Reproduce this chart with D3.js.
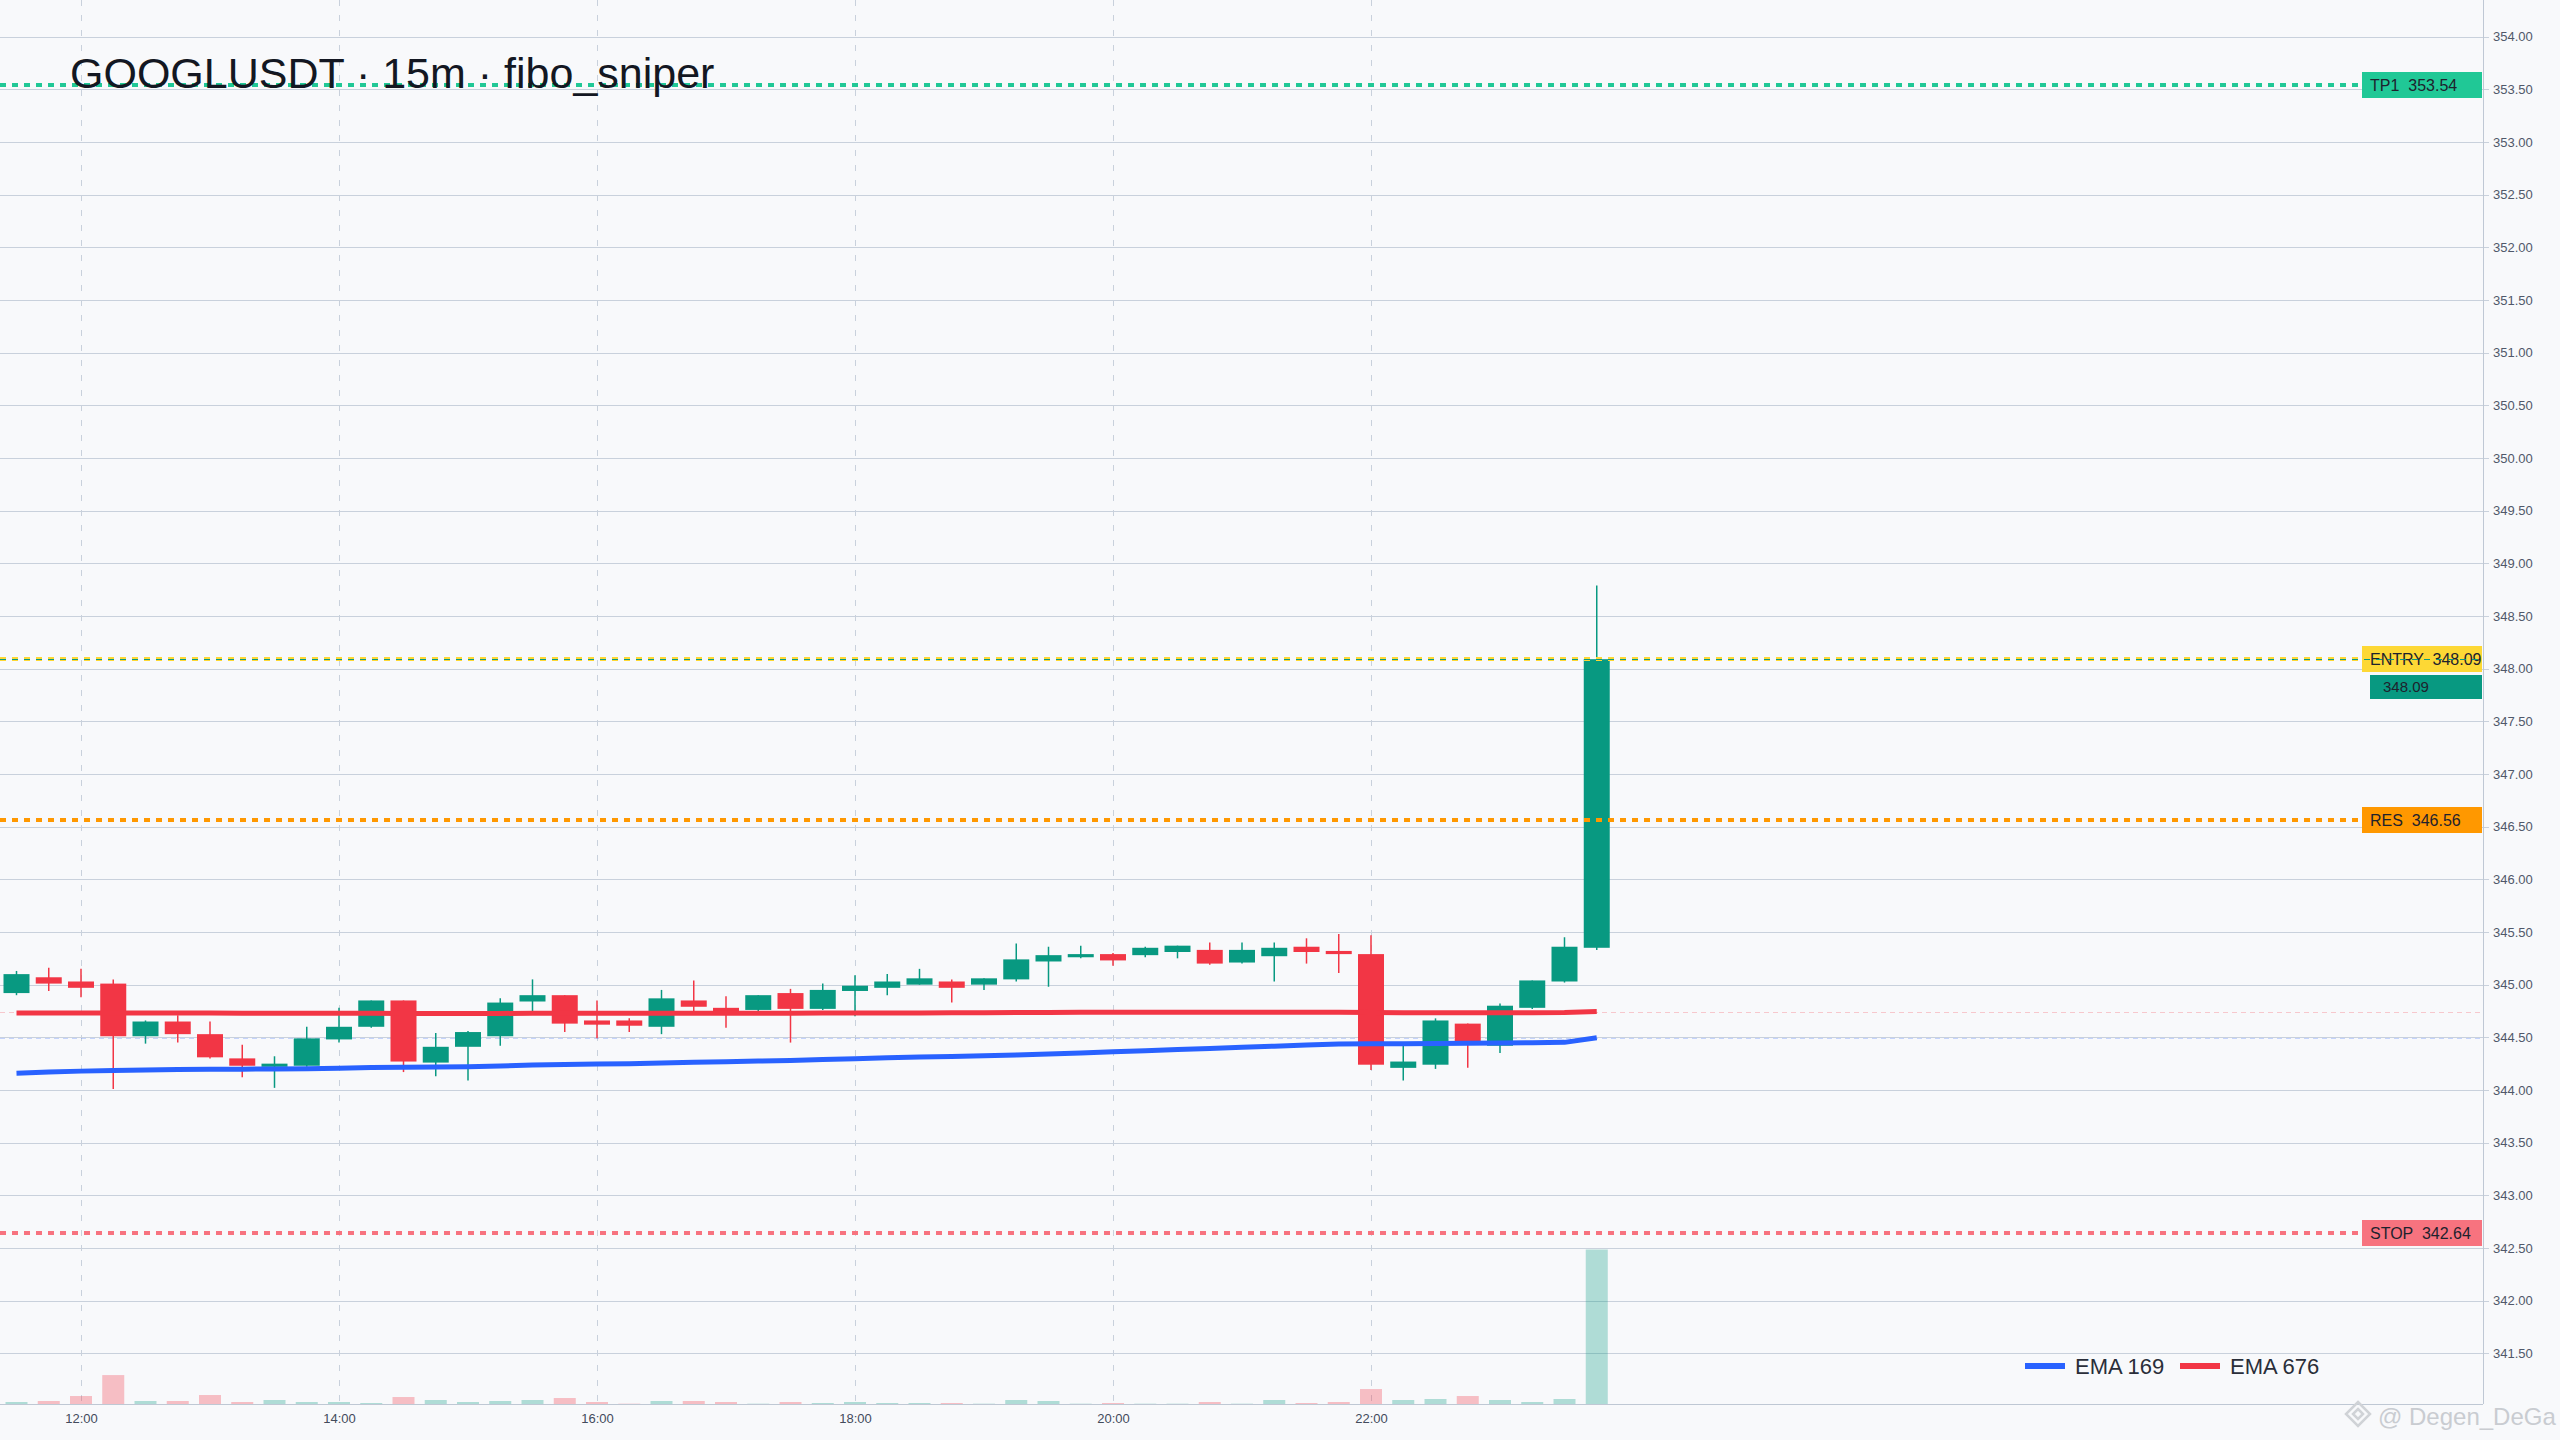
<!DOCTYPE html>
<html><head><meta charset="utf-8">
<script src="https://cdn.jsdelivr.net/npm/d3@7"></script>
<style>
html,body{margin:0;padding:0;background:#f8f9fb;}
svg{display:block;font-family:"Liberation Sans",Arial,Helvetica,sans-serif;}
text{white-space:pre;}
</style></head><body>
<svg id="chart" width="2560" height="1440"></svg>
<script>
// ---------- DATA ----------
const times = ["11:30","11:45","12:00","12:15","12:30","12:45","13:00","13:15","13:30","13:45",
"14:00","14:15","14:30","14:45","15:00","15:15","15:30","15:45","16:00","16:15",
"16:30","16:45","17:00","17:15","17:30","17:45","18:00","18:15","18:30","18:45",
"19:00","19:15","19:30","19:45","20:00","20:15","20:30","20:45","21:00","21:15",
"21:30","21:45","22:00","22:15","22:30","22:45","23:00","23:15","23:30","23:45"];
const opens = [344.92,345.07,345.03,345.01,344.51,344.65,344.53,344.30,344.22,344.23,
344.48,344.60,344.85,344.26,344.41,344.51,344.84,344.90,344.66,344.66,
344.60,344.85,344.78,344.76,344.92,344.77,344.94,344.97,345.00,345.03,
345.00,345.05,345.22,345.26,345.29,345.28,345.31,345.33,345.21,345.27,
345.36,345.32,345.29,344.21,344.24,344.63,344.42,344.78,345.03,345.35];
const highs = [345.13,345.16,345.15,345.05,344.66,344.71,344.65,344.43,344.32,344.60,
344.78,344.85,344.85,344.54,344.56,344.87,345.05,344.90,344.85,344.68,
344.95,345.04,344.89,344.90,344.96,345.01,345.09,345.10,345.15,345.05,
345.06,345.39,345.36,345.37,345.30,345.36,345.37,345.40,345.40,345.40,
345.44,345.48,345.47,344.44,344.68,344.63,344.82,345.04,345.45,348.79];
const lows = [344.90,344.94,344.88,344.01,344.44,344.45,344.30,344.12,344.02,344.22,
344.45,344.59,344.17,344.13,344.09,344.42,344.74,344.55,344.49,344.55,
344.53,344.75,344.59,344.74,344.45,344.76,344.70,344.90,345.00,344.83,
344.95,345.03,344.98,345.25,345.18,345.26,345.25,345.19,345.20,345.03,
345.20,345.11,344.19,344.09,344.20,344.21,344.35,344.77,345.02,345.33];
const closes = [345.10,345.01,344.97,344.51,344.65,344.53,344.31,344.23,344.25,344.49,
344.60,344.85,344.27,344.41,344.55,344.83,344.90,344.63,344.62,344.61,
344.87,344.79,344.73,344.90,344.77,344.95,344.99,345.03,345.06,344.97,
345.06,345.24,345.28,345.29,345.23,345.35,345.37,345.20,345.33,345.35,
345.31,345.29,344.24,344.27,344.66,344.45,344.80,345.04,345.36,348.09];
const volumes = [20,30,80,290,30,30,90,20,40,20,
20,10,70,40,20,30,40,60,20,3,
30,30,20,3,20,10,20,10,10,10,
3,40,30,3,10,3,3,20,3,40,
10,20,150,40,50,80,40,20,50,1550];
const ema169 = [344.160,344.170,344.179,344.186,344.190,344.194,344.197,344.198,344.199,344.202,
344.207,344.214,344.215,344.217,344.221,344.228,344.236,344.241,344.246,344.250,
344.257,344.263,344.268,344.275,344.281,344.289,344.297,344.305,344.313,344.319,
344.325,344.333,344.342,344.352,344.362,344.373,344.384,344.394,344.405,344.416,
344.426,344.436,344.440,344.440,344.442,344.443,344.446,344.449,344.452,344.495];
const ema676 = [344.732,344.732,344.732,344.731,344.731,344.731,344.730,344.729,344.728,344.728,
344.728,344.728,344.727,344.727,344.727,344.727,344.728,344.728,344.728,344.728,
344.728,344.728,344.728,344.729,344.729,344.730,344.730,344.731,344.732,344.733,
344.734,344.735,344.736,344.737,344.737,344.738,344.738,344.738,344.738,344.738,
344.738,344.738,344.736,344.734,344.733,344.733,344.733,344.734,344.736,344.745];
const yTicks = [341.5,342,342.5,343,343.5,344,344.5,345,345.5,346,346.5,347,347.5,348,348.5,349,349.5,350,350.5,351,351.5,352,352.5,353,353.5,354];
const xTicks = ["12:00","14:00","16:00","18:00","20:00","22:00"];
const levelNames = ["TP1","ENTRY","RES","STOP"];
const levelPrices = [353.54,348.09,346.56,342.64];
const legendNames = ["EMA 169","EMA 676"];
const titleText = "GOOGLUSDT · 15m · fibo_sniper";
const watermark = "@ Degen_DeGa";

// ---------- STYLE ----------
const levelColors = ["#20c896","#fdd835","#ff9800","#f7737f"];
const UP="#089981", DOWN="#f23645", BLUE="#2962ff";
const GRID="#c9d1dc";

// ---------- LAYOUT ----------
const W=2560,H=1440, plotR=2483, plotB=1404;
const svg=d3.select("#chart");
svg.append("rect").attr("width",W).attr("height",H).attr("fill","#f8f9fb");

const parse=d3.timeParse("%H:%M");
const tms=times.map(parse);
const x=d3.scaleTime().domain([tms[0], parse("22:00")]).range([16.5,1371]);
const y=d3.scaleLinear().domain([341.5,354]).range([1353.3,36.7]);
const yv=d3.scaleLinear().domain([0,d3.max(volumes)]).range([plotB,1249.5]);
const snap=v=>Math.round(v)+0.5;

// horizontal grid
svg.append("g").selectAll("line").data(yTicks).join("line")
  .attr("x1",0).attr("x2",plotR+6)
  .attr("y1",d=>snap(y(d))).attr("y2",d=>snap(y(d)))
  .attr("stroke",GRID).attr("stroke-width",1);
// vertical dashed grid
svg.append("g").selectAll("line").data(xTicks.map(parse)).join("line")
  .attr("x1",d=>snap(x(d))).attr("x2",d=>snap(x(d)))
  .attr("y1",0).attr("y2",plotB)
  .attr("stroke",GRID).attr("stroke-width",1).attr("stroke-dasharray","6,9");

// axes frame
svg.append("line").attr("x1",0).attr("x2",plotR).attr("y1",plotB+0.5).attr("y2",plotB+0.5).attr("stroke","#bfc8d4");
svg.append("line").attr("x1",plotR+0.5).attr("x2",plotR+0.5).attr("y1",0).attr("y2",plotB).attr("stroke","#bfc8d4");

// y axis labels
const yAxis=svg.append("g").attr("transform",`translate(${plotR},0)`)
  .call(d3.axisRight(y).tickValues(yTicks).tickFormat(d3.format(".2f")).tickSize(0).tickPadding(10));
yAxis.select(".domain").remove();
yAxis.selectAll("text").attr("font-size",13).attr("fill","#50586a").attr("font-family","Liberation Sans, Arial, sans-serif");

// x axis labels
const xAxis=svg.append("g").attr("transform",`translate(0,${plotB})`)
  .call(d3.axisBottom(x).tickValues(xTicks.map(parse)).tickFormat(d3.timeFormat("%H:%M")).tickSize(0).tickPadding(9.5));
xAxis.select(".domain").remove();
xAxis.selectAll("text").attr("font-size",13).attr("fill","#434b5c").attr("font-family","Liberation Sans, Arial, sans-serif");

// volume
const idx=d3.range(times.length);
svg.append("g").selectAll("rect").data(idx).join("rect")
  .attr("x",i=>x(tms[i])-11).attr("width",22)
  .attr("y",i=>yv(volumes[i])).attr("height",i=>plotB-yv(volumes[i]))
  .attr("fill",i=>closes[i]>=opens[i]?"rgba(8,153,129,0.3)":"rgba(242,54,69,0.3)");

// EMA last-value price lines
svg.append("line").attr("x1",0).attr("x2",plotR).attr("y1",snap(y(ema676[ema676.length-1]))).attr("y2",snap(y(ema676[ema676.length-1])))
  .attr("stroke","rgba(242,54,69,0.25)").attr("stroke-width",1).attr("stroke-dasharray","5,4");
svg.append("line").attr("x1",0).attr("x2",plotR).attr("y1",snap(y(ema169[ema169.length-1]))).attr("y2",snap(y(ema169[ema169.length-1])))
  .attr("stroke","rgba(41,98,255,0.25)").attr("stroke-width",1).attr("stroke-dasharray","5,4");

// candles
const cg=svg.append("g");
cg.selectAll("line").data(idx).join("line")
  .attr("x1",i=>x(tms[i])).attr("x2",i=>x(tms[i]))
  .attr("y1",i=>y(highs[i])).attr("y2",i=>y(lows[i]))
  .attr("stroke",i=>closes[i]>=opens[i]?UP:DOWN).attr("stroke-width",1.5);
cg.selectAll("rect").data(idx).join("rect")
  .attr("x",i=>x(tms[i])-13).attr("width",26)
  .attr("y",i=>y(Math.max(opens[i],closes[i])))
  .attr("height",i=>Math.max(1.5,Math.abs(y(opens[i])-y(closes[i]))))
  .attr("fill",i=>closes[i]>=opens[i]?UP:DOWN);

// EMA lines
const lineGen=arr=>d3.line().x((d,i)=>x(tms[i])).y(d=>y(d))(arr);
svg.append("path").attr("d",lineGen(ema676)).attr("fill","none").attr("stroke",DOWN).attr("stroke-width",5).attr("stroke-linejoin","round");
svg.append("path").attr("d",lineGen(ema169)).attr("fill","none").attr("stroke",BLUE).attr("stroke-width",5).attr("stroke-linejoin","round");

// level lines + labels
const boxX=2362, boxW=120;
levelPrices.forEach((p,k)=>{
  const ly=Math.round(y(p));
  svg.append("line").attr("x1",0).attr("x2",boxX).attr("y1",ly).attr("y2",ly)
    .attr("stroke",levelColors[k]).attr("stroke-width",4).attr("stroke-dasharray","6,6");
  svg.append("rect").attr("x",boxX).attr("y",Math.round(y(p))-13).attr("width",boxW).attr("height",26).attr("fill",levelColors[k]);
  svg.append("text").attr("x",boxX+8).attr("y",y(p)+5.7).attr("font-size",16).attr("fill","#1e222d")
    .text(`${levelNames[k]}  ${d3.format(".2f")(p)}`);
});

// candle last price line + label
const lastC=closes[closes.length-1];
svg.append("line").attr("x1",0).attr("x2",plotR).attr("y1",snap(y(lastC))).attr("y2",snap(y(lastC)))
  .attr("stroke",UP).attr("stroke-width",1).attr("stroke-dasharray","6,6");
svg.append("rect").attr("x",2370).attr("y",Math.round(y(lastC))+16).attr("width",112).attr("height",24).attr("fill",UP);
svg.append("text").attr("x",2383).attr("y",y(lastC)+33).attr("font-size",15).attr("fill","#1e222d").text(d3.format(".2f")(lastC));

// legend
const legColors=[BLUE,DOWN];
const legX=[2025,2180];
legendNames.forEach((n,k)=>{
  svg.append("rect").attr("x",legX[k]).attr("y",1363).attr("width",40).attr("height",6).attr("fill",legColors[k]);
  svg.append("text").attr("x",legX[k]+50).attr("y",1373.5).attr("font-size",22).attr("fill","#2a2e39").text(n);
});

// title
svg.append("text").attr("x",70).attr("y",88).attr("font-size",43).attr("fill","#131722").text(titleText);

// watermark
const wm=svg.append("g").attr("fill","none").attr("stroke","#d0d3d7").attr("stroke-width",2.5);
wm.append("path").attr("d","M2358,1402 L2370,1414 L2358,1426 L2346,1414 Z");
wm.append("path").attr("d","M2358,1409 L2363,1414 L2358,1419 L2353,1414 Z");
svg.append("text").attr("x",2378).attr("y",1425).attr("font-size",24).attr("fill","#c9ccd1").text(watermark);
</script>
</body></html>
